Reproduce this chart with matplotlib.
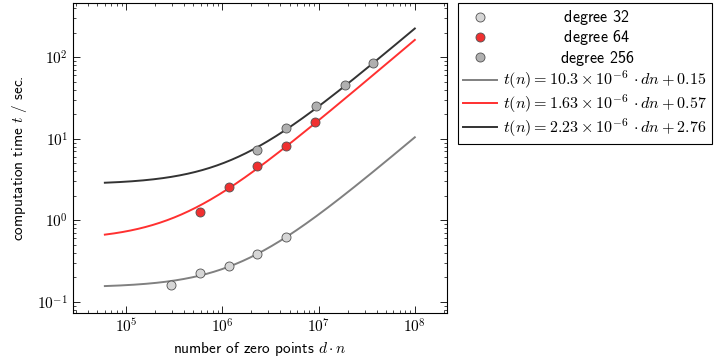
import numpy as np
import matplotlib
matplotlib.use("Agg")
import matplotlib.pyplot as plt
from matplotlib.ticker import LogLocator, FuncFormatter, NullFormatter

plt.rcParams['font.family'] = ['cmss10', 'DejaVu Sans']
plt.rcParams['mathtext.fontset'] = 'cm'
plt.rcParams['axes.formatter.use_mathtext'] = True

FS = 11
LEG_FS = 11.6

# measured points (number of zero points d*n, seconds)
dn_32 = [2.9e5, 5.8e5, 1.16e6, 2.3e6, 4.6e6]
t_32 = [0.16, 0.224, 0.273, 0.39, 0.625]
dn_64 = [5.8e5, 1.16e6, 2.3e6, 4.6e6, 9.2e6]
t_64 = [1.27, 2.57, 4.6, 8.26, 16.0]
dn_256 = [2.3e6, 4.6e6, 9.3e6, 1.86e7, 3.7e7]
t_256 = [7.2, 13.5, 25.2, 45.6, 86.0]
deg_labels = ["degree 32", "degree 64", "degree 256"]

# linear fits t = slope*dn + offset
fit_slope = [1.03e-7, 1.63e-6, 2.23e-6]
fit_offset = [0.15, 0.57, 2.76]
fit_labels = [
    r"$t(n) = \mathsf{10.3} \times \mathsf{10}^{-6}\,\cdot dn + \mathsf{0.15}$",
    r"$t(n) = \mathsf{1.63} \times \mathsf{10}^{-6}\,\cdot dn + \mathsf{0.57}$",
    r"$t(n) = \mathsf{2.23} \times \mathsf{10}^{-6}\,\cdot dn + \mathsf{2.76}$",
]
fit_range = (6e4, 1e8)

line_colors = ["#808080", "#ff3030", "#333333"]
face_colors = ["#d6d6d6", "#f03030", "#b0b0b0"]

fig = plt.figure(figsize=(7.24, 3.59), dpi=100)
ax = fig.add_axes([73 / 724, 1 - 313 / 359, (447 - 73) / 724, (313 - 3) / 359])

pts = [(dn_32, t_32), (dn_64, t_64), (dn_256, t_256)]
for (x, y), fc, lab in zip(pts, face_colors, deg_labels):
    ax.plot(x, y, linestyle="none", marker="o", markersize=6.5,
            markerfacecolor=fc, markeredgecolor="#505050", markeredgewidth=0.6,
            label=lab, zorder=3)

xs = np.logspace(np.log10(fit_range[0]), np.log10(fit_range[1]), 300)
for a, b, c, lab in zip(fit_slope, fit_offset, line_colors, fit_labels):
    ax.plot(xs, a * xs + b, color=c, lw=1.4, label=lab, zorder=2)

ax.set_xscale("log")
ax.set_yscale("log")
ax.set_xlim(2.8e4, 2.16e8)
ax.set_ylim(0.073, 464)

fmt = FuncFormatter(lambda v, p: r"$10^{%d}$" % round(np.log10(v)))
for axis in (ax.xaxis, ax.yaxis):
    axis.set_major_locator(LogLocator(base=10, numticks=20))
    axis.set_minor_locator(LogLocator(base=10, subs=np.arange(2, 10), numticks=20))
    axis.set_major_formatter(fmt)
    axis.set_minor_formatter(NullFormatter())

ax.tick_params(which="both", direction="in", top=True, right=True, labelsize=11)
ax.tick_params(which="major", length=5, width=0.6)
ax.tick_params(which="minor", length=2.5, width=0.5)
for s in ax.spines.values():
    s.set_linewidth(0.8)

ax.set_xlabel(r"number of zero points $d \cdot n$", fontsize=FS, labelpad=3)
ax.set_ylabel(r"computation time $t$ / sec.", fontsize=FS, labelpad=6)

leg = fig.legend(loc="upper left", bbox_to_anchor=(458 / 724, 1 - 3 / 359),
                 fontsize=LEG_FS, frameon=True, fancybox=False, edgecolor="black",
                 framealpha=1, borderaxespad=0, numpoints=1, handlelength=2.1,
                 handletextpad=0.35, labelspacing=0.08, borderpad=0.32)
leg.get_frame().set_linewidth(0.8)

# center the degree labels like the original legend
fig.canvas.draw()
r = fig.canvas.get_renderer()
texts = leg.get_texts()
widths = [t.get_window_extent(r).width for t in texts]
target = max(widths[3:])
p1 = fig.text(0, 0, "x", fontsize=LEG_FS)
p2 = fig.text(0, 0, r"$\hspace{1}$x", fontsize=LEG_FS)
unit = p2.get_window_extent(r).width - p1.get_window_extent(r).width
p1.remove()
p2.remove()
for i in range(3):
    pad = (target - widths[i]) / 2 / unit
    texts[i].set_text(r"$\hspace{%.3f}$" % pad + deg_labels[i])

fig.savefig("out.png", dpi=100)
